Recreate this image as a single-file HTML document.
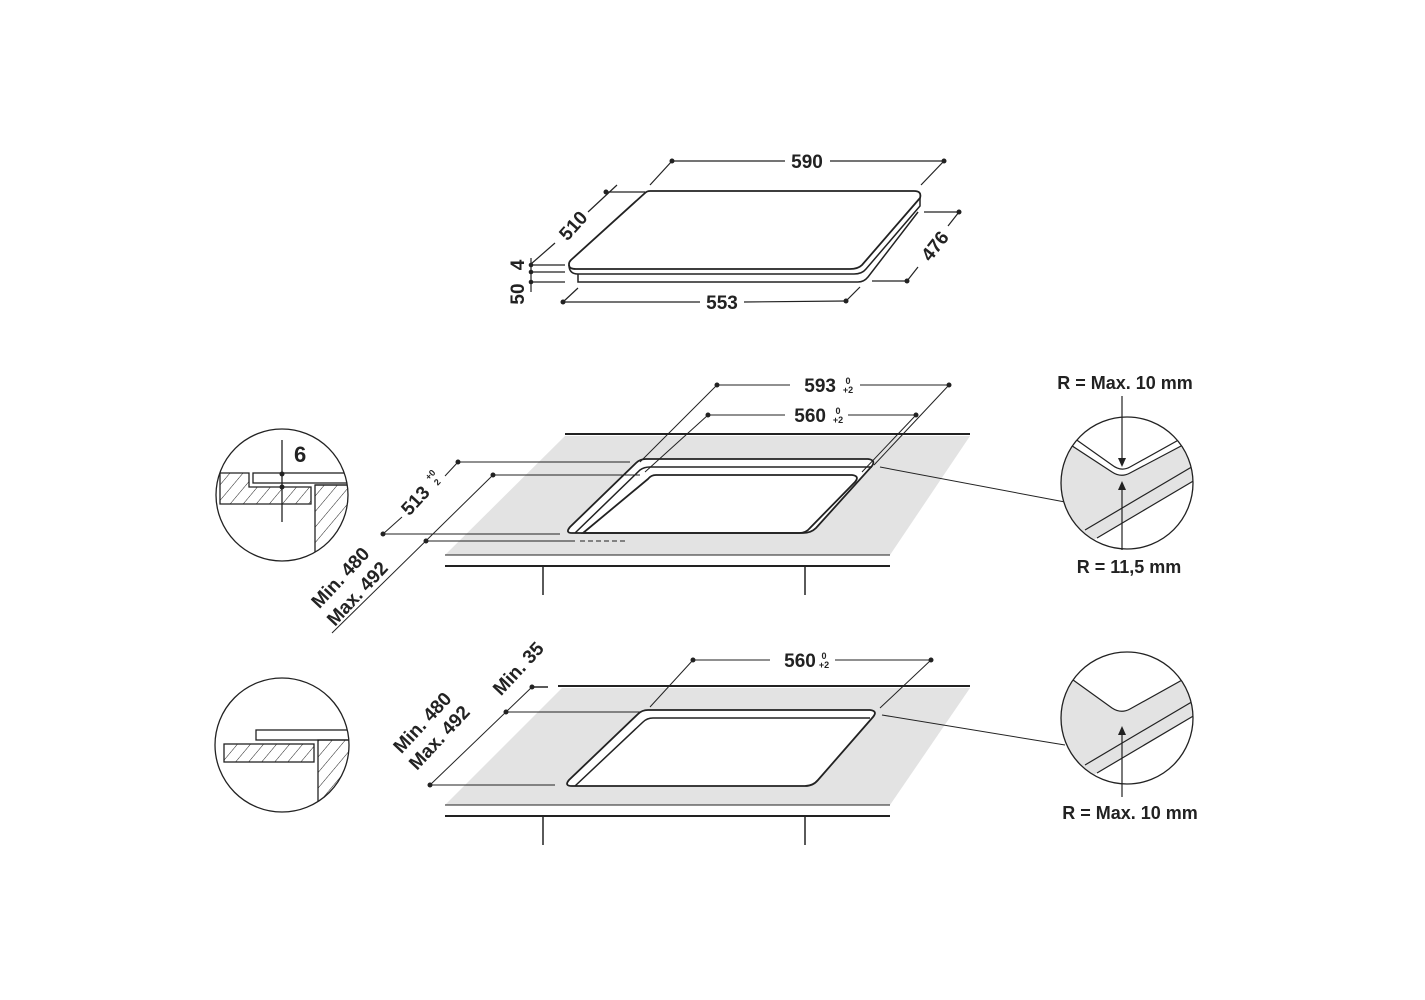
<!DOCTYPE html>
<html><head><style>html,body{margin:0;padding:0;background:#fff}svg{display:block}text{font-family:"Liberation Sans",Arial,sans-serif;font-weight:bold;fill:#222}</style></head>
<body>
<svg width="1425" height="1000" viewBox="0 0 1425 1000" xmlns="http://www.w3.org/2000/svg">
<defs>
<pattern id="h" width="10" height="10" patternUnits="userSpaceOnUse" patternTransform="rotate(40)">
<line x1="0" y1="0" x2="0" y2="10" stroke="#222" stroke-width="1"/></pattern>
<clipPath id="c1"><circle cx="1127" cy="483" r="66"/></clipPath>
<clipPath id="c2"><circle cx="1127" cy="718" r="66"/></clipPath>
<clipPath id="l1"><circle cx="282" cy="495" r="66"/></clipPath>
<clipPath id="l2"><circle cx="282" cy="745" r="67"/></clipPath>
</defs>
<g stroke="#222" fill="none" stroke-width="1.2">
<path d="M650,191 L914,191 Q922,191 920,198 L862,265 Q858,269 850,269 L576,269 Q569,269 569,265 L569,264 Q569,262 571,260 L645,193 Q647,191 650,191 Z" stroke-width="1.8" fill="#fff"/>
<path d="M569,265 Q569,274 578,274 L854,274 Q862,274 866,269 L920,206 L920,198" stroke-width="1.5"/>
<path d="M578,274 L578,282 L858,282 Q864,282 868,277 L918,212" stroke-width="1.5"/>
<line x1="672" y1="161" x2="785" y2="161"/><line x1="830" y1="161" x2="944" y2="161"/>
<line x1="672" y1="161" x2="650" y2="185"/><line x1="944" y1="161" x2="921" y2="185"/>
<line x1="606" y1="192" x2="645" y2="192"/><line x1="617" y1="185" x2="588" y2="212"/><line x1="555" y1="243" x2="531" y2="264"/>
<line x1="924" y1="212" x2="959" y2="212"/><line x1="872" y1="281" x2="907" y2="281"/>
<line x1="959" y1="212" x2="948" y2="226"/><line x1="918" y1="267" x2="907" y2="281"/>
<line x1="563" y1="302" x2="700" y2="302"/><line x1="744" y1="302" x2="846" y2="301"/>
<line x1="563" y1="302" x2="578" y2="288"/><line x1="846" y1="301" x2="860" y2="287"/>
<line x1="531" y1="258" x2="531" y2="292"/>
<line x1="531" y1="265" x2="565" y2="265"/><line x1="531" y1="272" x2="565" y2="272"/><line x1="531" y1="282" x2="565" y2="282"/>
</g>
<g fill="#222">
<circle cx="672" cy="161" r="2.5"/><circle cx="944" cy="161" r="2.5"/><circle cx="606" cy="192" r="2.5"/>
<circle cx="959" cy="212" r="2.5"/><circle cx="907" cy="281" r="2.5"/><circle cx="563" cy="302" r="2.5"/><circle cx="846" cy="301" r="2.5"/>
<circle cx="531" cy="265" r="2.3"/><circle cx="531" cy="272" r="2.3"/><circle cx="531" cy="282" r="2.3"/>
</g>
<text x="807" y="168" font-size="19" text-anchor="middle">590</text>
<text x="722" y="309" font-size="19" text-anchor="middle">553</text>
<text transform="translate(578,230) rotate(-48)" font-size="19" text-anchor="middle">510</text>
<text transform="translate(940,250) rotate(-52)" font-size="19" text-anchor="middle">476</text>
<text transform="translate(524,265) rotate(-90)" font-size="19" text-anchor="middle">4</text>
<text transform="translate(524,294) rotate(-90)" font-size="19" text-anchor="middle">50</text>

<polygon points="565,436 970,436 890,555 445,555" fill="#e3e3e3"/>
<g stroke="#222" fill="none" stroke-width="1.5">
<line x1="565" y1="434" x2="970" y2="434" stroke-width="2"/>
<line x1="445" y1="555" x2="890" y2="555" stroke-width="1"/>
<line x1="445" y1="566" x2="890" y2="566" stroke-width="2"/>
<line x1="543" y1="566" x2="543" y2="595"/><line x1="805" y1="566" x2="805" y2="595"/>
<path d="M646,459 L868,459 Q876,460 872,466 L816,528 Q811,533 803,533 L572,533 Q565,533 570,527 L636,463 Q640,459 646,459 Z" fill="#fff" stroke-width="1.8"/>
<path d="M575,533 L640,470 Q644,467 650,467 L872,467" />
<path d="M656,475 L852,475 Q860,476 855,482 L810,528 Q806,533 799,533 L583,533 L648,479 Q651,475 656,475 Z" stroke-width="1.8"/>
</g>
<g stroke="#222" fill="none" stroke-width="1">
<line x1="717" y1="385" x2="790" y2="385"/><line x1="860" y1="385" x2="949" y2="385"/>
<line x1="708" y1="415" x2="785" y2="415"/><line x1="848" y1="415" x2="916" y2="415"/>
<line x1="717" y1="385" x2="640" y2="462"/><line x1="949" y1="385" x2="874" y2="465"/>
<line x1="708" y1="415" x2="645" y2="472"/><line x1="916" y1="415" x2="862" y2="472"/>
<line x1="458" y1="462" x2="630" y2="462"/><line x1="383" y1="534" x2="560" y2="534"/>
<line x1="493" y1="475" x2="640" y2="475"/><line x1="426" y1="541" x2="575" y2="541"/>
<line x1="580" y1="541" x2="625" y2="541" stroke-dasharray="5,3"/>
<line x1="458" y1="462" x2="445" y2="476"/><line x1="402" y1="517" x2="383" y2="534"/>
<line x1="493" y1="475" x2="332" y2="633"/>
<line x1="880" y1="467" x2="1065" y2="502"/>
</g>
<g fill="#222">
<circle cx="717" cy="385" r="2.5"/><circle cx="949" cy="385" r="2.5"/><circle cx="708" cy="415" r="2.5"/><circle cx="916" cy="415" r="2.5"/>
<circle cx="458" cy="462" r="2.5"/><circle cx="383" cy="534" r="2.5"/><circle cx="493" cy="475" r="2.5"/><circle cx="426" cy="541" r="2.5"/>
</g>
<text x="836" y="392" font-size="19" text-anchor="end">593</text>
<text x="848" y="384" font-size="9" text-anchor="middle">0</text><text x="848" y="393" font-size="9" text-anchor="middle">+2</text>
<text x="826" y="422" font-size="19" text-anchor="end">560</text>
<text x="838" y="414" font-size="9" text-anchor="middle">0</text><text x="838" y="423" font-size="9" text-anchor="middle">+2</text>
<g transform="translate(420,505) rotate(-47)"><text font-size="19" text-anchor="middle">513</text><text x="24" y="-10" font-size="9">+0</text><text x="26" y="0" font-size="9">2</text></g>
<text transform="translate(345,582) rotate(-47)" font-size="19" text-anchor="middle">Min. 480</text>
<text transform="translate(362,598) rotate(-47)" font-size="19" text-anchor="middle">Max. 492</text>

<g clip-path="url(#l1)" stroke="#222" stroke-width="1.3" fill="none">
<path d="M220,473 L249,473 L249,487 L311,487 L311,504 L220,504 Z" fill="url(#h)"/>
<rect x="253" y="473" width="95" height="10" fill="#fff"/>
<rect x="315" y="485" width="40" height="80" fill="url(#h)"/>
<line x1="315" y1="485" x2="350" y2="485"/>
<line x1="282" y1="440" x2="282" y2="522"/>
</g>
<circle cx="282" cy="495" r="66" stroke="#222" stroke-width="1.3" fill="none"/>
<circle cx="282" cy="474" r="2.5" fill="#222"/><circle cx="282" cy="487" r="2.5" fill="#222"/>
<text x="294" y="462" font-size="22">6</text>

<g clip-path="url(#c1)">
<rect x="1050" y="410" width="160" height="150" fill="#fff"/>
<path d="M1060,438 L1112,472 Q1121,478 1130,473 L1200,436 L1200,477 L1050,566 Z" fill="#e3e3e3"/>
<g stroke="#222" fill="none" stroke-width="1.2">
<path d="M1064,431 L1112,465 Q1121,472 1130,467 L1200,428"/>
<path d="M1060,438 L1112,472 Q1121,478 1130,473 L1200,436"/>
<line x1="1085" y1="530" x2="1200" y2="462"/>
<line x1="1097" y1="538" x2="1200" y2="477"/>
</g>
</g>
<circle cx="1127" cy="483" r="66" stroke="#222" stroke-width="1.3" fill="none"/>
<g stroke="#222" stroke-width="1.2"><line x1="1122" y1="396" x2="1122" y2="460"/><line x1="1122" y1="490" x2="1122" y2="550"/></g>
<polygon points="1118,458 1126,458 1122,467" fill="#222"/><polygon points="1118,490 1126,490 1122,481" fill="#222"/>
<text x="1125" y="389" font-size="18" text-anchor="middle">R = Max. 10 mm</text>
<text x="1129" y="573" font-size="18" text-anchor="middle">R = 11,5 mm</text>

<polygon points="562,688 970,688 890,805 445,805" fill="#e3e3e3"/>
<g stroke="#222" fill="none" stroke-width="1.5">
<line x1="558" y1="686" x2="970" y2="686" stroke-width="2"/>
<line x1="532" y1="687" x2="548" y2="687"/>
<line x1="445" y1="805" x2="890" y2="805" stroke-width="1"/>
<line x1="445" y1="816" x2="890" y2="816" stroke-width="2"/>
<line x1="543" y1="816" x2="543" y2="845"/><line x1="805" y1="816" x2="805" y2="845"/>
<path d="M648,710 L870,710 Q878,711 873,717 L818,780 Q813,786 805,786 L572,786 Q564,786 569,780 L638,714 Q642,710 648,710 Z" fill="#fff" stroke-width="1.8"/>
<path d="M575,786 L643,722 Q647,718 653,718 L870,718"/>
</g>
<g stroke="#222" fill="none" stroke-width="1">
<line x1="693" y1="660" x2="770" y2="660"/><line x1="835" y1="660" x2="931" y2="660"/>
<line x1="693" y1="660" x2="650" y2="707"/><line x1="931" y1="660" x2="880" y2="708"/>
<line x1="506" y1="712" x2="640" y2="712"/><line x1="430" y1="785" x2="555" y2="785"/>
<line x1="532" y1="687" x2="430" y2="785"/>
<line x1="882" y1="715" x2="1065" y2="745"/>
</g>
<g fill="#222">
<circle cx="693" cy="660" r="2.5"/><circle cx="931" cy="660" r="2.5"/><circle cx="532" cy="687" r="2.5"/><circle cx="506" cy="712" r="2.5"/><circle cx="430" cy="785" r="2.5"/>
</g>
<text x="800" y="667" font-size="19" text-anchor="middle">560</text>
<text x="824" y="659" font-size="9" text-anchor="middle">0</text><text x="824" y="668" font-size="9" text-anchor="middle">+2</text>
<text transform="translate(523,673) rotate(-47)" font-size="19" text-anchor="middle">Min. 35</text>
<text transform="translate(427,727) rotate(-47)" font-size="19" text-anchor="middle">Min. 480</text>
<text transform="translate(444,742) rotate(-47)" font-size="19" text-anchor="middle">Max. 492</text>

<g clip-path="url(#l2)" stroke="#222" stroke-width="1.3">
<rect x="224" y="744" width="90" height="18" fill="url(#h)"/>
<rect x="256" y="730" width="96" height="10" fill="#fff"/>
<rect x="318" y="740" width="40" height="80" fill="url(#h)"/>
</g>
<circle cx="282" cy="745" r="67" stroke="#222" stroke-width="1.3" fill="none"/>

<g clip-path="url(#c2)">
<rect x="1050" y="640" width="160" height="160" fill="#fff"/>
<path d="M1062,672 L1112,708 Q1121,714 1130,709 L1200,670 L1200,712 L1050,801 Z" fill="#e3e3e3"/>
<g stroke="#222" fill="none" stroke-width="1.2">
<path d="M1062,672 L1112,708 Q1121,714 1130,709 L1200,670"/>
<line x1="1085" y1="765" x2="1200" y2="697"/>
<line x1="1097" y1="773" x2="1200" y2="712"/>
</g>
</g>
<circle cx="1127" cy="718" r="66" stroke="#222" stroke-width="1.3" fill="none"/>
<line x1="1122" y1="734" x2="1122" y2="797" stroke="#222" stroke-width="1.2"/>
<polygon points="1118,735 1126,735 1122,726" fill="#222"/>
<text x="1130" y="819" font-size="18" text-anchor="middle">R = Max. 10 mm</text>
</svg>
</body></html>
